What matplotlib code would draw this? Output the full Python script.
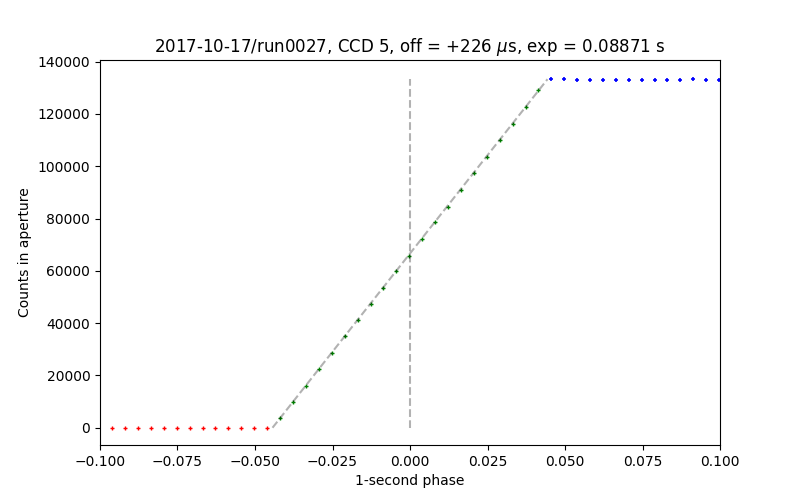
import matplotlib
matplotlib.use("Agg")
import matplotlib.pyplot as plt

# Pre-ramp (dark) points
red_x = [-0.0961, -0.0919, -0.0878, -0.0836, -0.0794, -0.0753, -0.0711,
         -0.0669, -0.0628, -0.0586, -0.0544, -0.0503, -0.0461]
red_y = [0, 0, 0, 0, 0, 0, 0, 0, 0, 0, 0, 0, 0]

# Ramp points
green_x = [-0.0419, -0.0377, -0.0336, -0.0294, -0.0252, -0.0211, -0.0169,
           -0.0127, -0.0086, -0.0044, -0.0002, 0.0039, 0.0081, 0.0123,
           0.0164, 0.0206, 0.0248, 0.0289, 0.0331, 0.0373, 0.0414]
green_y = [3600, 9900, 16100, 22400, 28400, 34900, 41200, 47300, 53600,
           59900, 65700, 72200, 78500, 84600, 91000, 97300, 103700, 110100,
           116200, 122700, 129200]

# Saturated points
blue_x = [0.0455, 0.0497, 0.0539, 0.0580, 0.0622, 0.0664, 0.0705, 0.0747,
          0.0789, 0.0830, 0.0872, 0.0914, 0.0955, 0.0997]
blue_y = [133200, 133200, 133100, 133000, 132900, 133100, 133100, 133000,
          133100, 133100, 132900, 133300, 133100, 133100]

# Model ramp
fit_x = [-0.04435, 0.04435]
fit_y = [0, 133300]
vline_x = [0.0, 0.0]
vline_y = [0, 133300]

fig, ax = plt.subplots(figsize=(8, 5), dpi=100)
ax.plot(red_x, red_y, '+', color='red', ms=3, mew=1)
ax.plot(green_x, green_y, '+', color='green', ms=3, mew=1)
ax.plot(blue_x, blue_y, '+', color='blue', ms=3, mew=1.2)
ax.plot(fit_x, fit_y, '--', color='k', alpha=0.3, lw=1.5)
ax.plot(vline_x, vline_y, '--', color='k', alpha=0.3, lw=1.5)
ax.set_xlim(-0.1, 0.1)
ax.set_ylim(-6600, 140650)
ax.set_xlabel('1-second phase')
ax.set_ylabel('Counts in aperture')
ax.set_title(r'2017-10-17/run0027, CCD 5, off = +226 $\mu$s, exp = 0.08871 s')
fig.savefig('out.png', dpi=100)
